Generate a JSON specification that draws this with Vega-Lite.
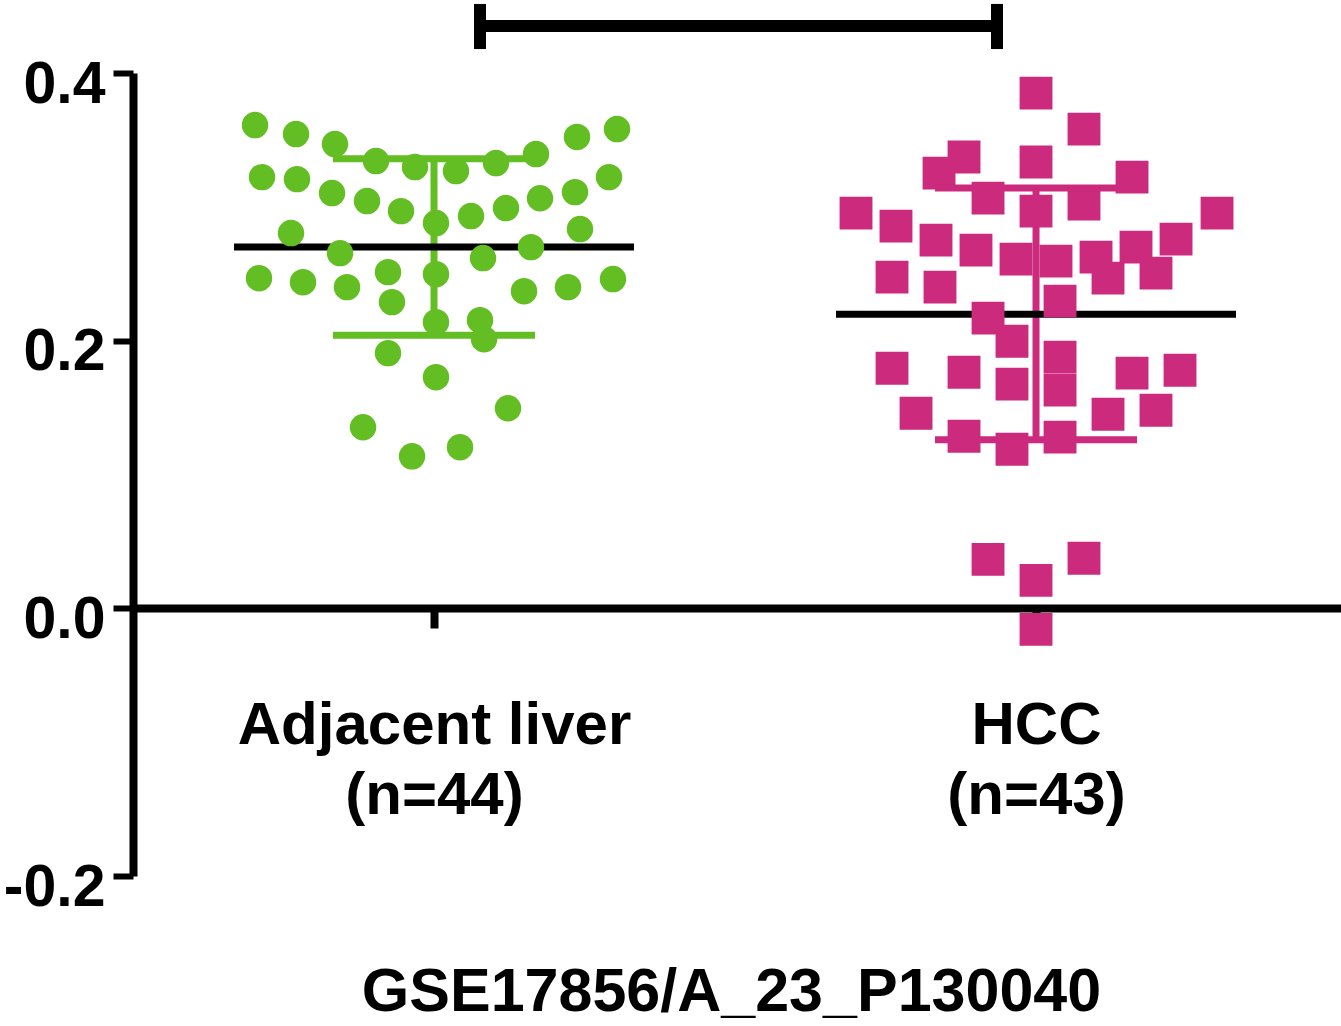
{
  "$schema": "https://vega.github.io/schema/vega-lite/v6.json",
  "width": 1208,
  "height": 803,
  "autosize": {"type": "none"},
  "padding": {"left": 133, "top": 73, "right": 0, "bottom": 150},
  "background": "white",
  "config": {"view": {"stroke": null}, "font": "Liberation Sans"},
  "datasets": {
    "points": [
      {"group": "Adjacent liver", "pos": 0.2027, "value": 0.3611},
      {"group": "Adjacent liver", "pos": 0.2708, "value": 0.3544},
      {"group": "Adjacent liver", "pos": 0.3355, "value": 0.3469},
      {"group": "Adjacent liver", "pos": 0.4037, "value": 0.3342},
      {"group": "Adjacent liver", "pos": 0.4684, "value": 0.3297},
      {"group": "Adjacent liver", "pos": 0.5365, "value": 0.3267},
      {"group": "Adjacent liver", "pos": 0.6030, "value": 0.3327},
      {"group": "Adjacent liver", "pos": 0.6694, "value": 0.3394},
      {"group": "Adjacent liver", "pos": 0.7375, "value": 0.3522},
      {"group": "Adjacent liver", "pos": 0.8040, "value": 0.3581},
      {"group": "Adjacent liver", "pos": 0.2143, "value": 0.3222},
      {"group": "Adjacent liver", "pos": 0.2724, "value": 0.3207},
      {"group": "Adjacent liver", "pos": 0.3306, "value": 0.3103},
      {"group": "Adjacent liver", "pos": 0.3887, "value": 0.3043},
      {"group": "Adjacent liver", "pos": 0.4452, "value": 0.2968},
      {"group": "Adjacent liver", "pos": 0.5033, "value": 0.2879},
      {"group": "Adjacent liver", "pos": 0.5615, "value": 0.2931},
      {"group": "Adjacent liver", "pos": 0.6196, "value": 0.2991},
      {"group": "Adjacent liver", "pos": 0.6761, "value": 0.3064},
      {"group": "Adjacent liver", "pos": 0.7342, "value": 0.3110},
      {"group": "Adjacent liver", "pos": 0.7907, "value": 0.3222},
      {"group": "Adjacent liver", "pos": 0.2625, "value": 0.2804},
      {"group": "Adjacent liver", "pos": 0.3439, "value": 0.2654},
      {"group": "Adjacent liver", "pos": 0.5814, "value": 0.2617},
      {"group": "Adjacent liver", "pos": 0.6611, "value": 0.2699},
      {"group": "Adjacent liver", "pos": 0.7425, "value": 0.2834},
      {"group": "Adjacent liver", "pos": 0.2093, "value": 0.2467},
      {"group": "Adjacent liver", "pos": 0.2824, "value": 0.2437},
      {"group": "Adjacent liver", "pos": 0.3555, "value": 0.2400},
      {"group": "Adjacent liver", "pos": 0.4236, "value": 0.2512},
      {"group": "Adjacent liver", "pos": 0.4302, "value": 0.2288},
      {"group": "Adjacent liver", "pos": 0.5033, "value": 0.2497},
      {"group": "Adjacent liver", "pos": 0.6495, "value": 0.2370},
      {"group": "Adjacent liver", "pos": 0.7226, "value": 0.2400},
      {"group": "Adjacent liver", "pos": 0.7973, "value": 0.2460},
      {"group": "Adjacent liver", "pos": 0.5033, "value": 0.2138},
      {"group": "Adjacent liver", "pos": 0.5764, "value": 0.2153},
      {"group": "Adjacent liver", "pos": 0.5831, "value": 0.2011},
      {"group": "Adjacent liver", "pos": 0.4236, "value": 0.1907},
      {"group": "Adjacent liver", "pos": 0.5033, "value": 0.1727},
      {"group": "Adjacent liver", "pos": 0.6229, "value": 0.1495},
      {"group": "Adjacent liver", "pos": 0.3821, "value": 0.1353},
      {"group": "Adjacent liver", "pos": 0.4635, "value": 0.1136},
      {"group": "Adjacent liver", "pos": 0.5432, "value": 0.1204},
      {"group": "HCC", "pos": 1.5000, "value": 0.3850},
      {"group": "HCC", "pos": 1.5797, "value": 0.3581},
      {"group": "HCC", "pos": 1.3804, "value": 0.3372},
      {"group": "HCC", "pos": 1.3389, "value": 0.3252},
      {"group": "HCC", "pos": 1.5000, "value": 0.3335},
      {"group": "HCC", "pos": 1.6595, "value": 0.3222},
      {"group": "HCC", "pos": 1.4203, "value": 0.3065},
      {"group": "HCC", "pos": 1.5000, "value": 0.2968},
      {"group": "HCC", "pos": 1.5797, "value": 0.3021},
      {"group": "HCC", "pos": 1.2010, "value": 0.2953},
      {"group": "HCC", "pos": 1.8007, "value": 0.2953},
      {"group": "HCC", "pos": 1.2674, "value": 0.2856},
      {"group": "HCC", "pos": 1.3339, "value": 0.2751},
      {"group": "HCC", "pos": 1.4003, "value": 0.2677},
      {"group": "HCC", "pos": 1.4668, "value": 0.2609},
      {"group": "HCC", "pos": 1.5332, "value": 0.2594},
      {"group": "HCC", "pos": 1.5997, "value": 0.2624},
      {"group": "HCC", "pos": 1.6196, "value": 0.2467},
      {"group": "HCC", "pos": 1.6661, "value": 0.2699},
      {"group": "HCC", "pos": 1.6993, "value": 0.2505},
      {"group": "HCC", "pos": 1.7326, "value": 0.2759},
      {"group": "HCC", "pos": 1.2608, "value": 0.2475},
      {"group": "HCC", "pos": 1.3405, "value": 0.2400},
      {"group": "HCC", "pos": 1.5399, "value": 0.2295},
      {"group": "HCC", "pos": 1.4203, "value": 0.2168},
      {"group": "HCC", "pos": 1.4601, "value": 0.1996},
      {"group": "HCC", "pos": 1.2608, "value": 0.1794},
      {"group": "HCC", "pos": 1.3804, "value": 0.1764},
      {"group": "HCC", "pos": 1.4601, "value": 0.1675},
      {"group": "HCC", "pos": 1.5399, "value": 0.1877},
      {"group": "HCC", "pos": 1.5399, "value": 0.1630},
      {"group": "HCC", "pos": 1.6595, "value": 0.1757},
      {"group": "HCC", "pos": 1.7392, "value": 0.1779},
      {"group": "HCC", "pos": 1.3007, "value": 0.1458},
      {"group": "HCC", "pos": 1.6196, "value": 0.1450},
      {"group": "HCC", "pos": 1.6993, "value": 0.1480},
      {"group": "HCC", "pos": 1.3804, "value": 0.1286},
      {"group": "HCC", "pos": 1.4601, "value": 0.1189},
      {"group": "HCC", "pos": 1.5399, "value": 0.1279},
      {"group": "HCC", "pos": 1.4203, "value": 0.0366},
      {"group": "HCC", "pos": 1.5797, "value": 0.0374},
      {"group": "HCC", "pos": 1.5000, "value": 0.0209},
      {"group": "HCC", "pos": 1.5000, "value": -0.0157}
    ],
    "stats": [
      {"group": "Adjacent liver", "pos": 0.5, "mean": 0.270, "lower": 0.204, "upper": 0.336},
      {"group": "HCC", "pos": 1.5, "mean": 0.2198, "lower": 0.126, "upper": 0.314}
    ],
    "sigbar": [
      {"pos": 0.5764, "pos2": 1.4352, "y": 0.4351}
    ],
    "sigcaps": [
      {"pos": 0.5764, "y": 0.4179, "y2": 0.4516},
      {"pos": 1.4352, "y": 0.4179, "y2": 0.4516}
    ]
  },
  "encoding": {
    "x": {"field": "pos", "type": "quantitative", "scale": {"domain": [0, 2.0066], "nice": false, "zero": false},
      "axis": {
        "values": [0.5, 1.5],
        "labelExpr": "datum.value < 1 ? ['Adjacent liver', '(n=44)'] : ['HCC', '(n=43)']",
        "grid": false,
        "offset": -268,
        "domainColor": "black", "domainWidth": 8,
        "tickColor": "black", "tickWidth": 8, "tickSize": 20,
        "labelFont": "Liberation Sans", "labelFontSize": 60, "labelFontWeight": "bold", "labelColor": "black",
        "labelPadding": 68, "labelLineHeight": 70, "labelBaseline": "top", "labelAlign": "center",
        "labelFlush": false, "labelOverlap": false, "labelBound": false, "labelLimit": 0,
        "title": "GSE17856/A_23_P130040",
        "titleFont": "Liberation Sans", "titleFontSize": 61, "titleFontWeight": "bold", "titleColor": "black",
        "titleX": 598, "titleY": 402, "titleAlign": "center", "titleBaseline": "alphabetic", "titleLimit": 0
      }}
  },
  "layer": [
    {
      "data": {"name": "stats"},
      "mark": {"type": "rule", "strokeWidth": 7, "strokeCap": "butt"},
      "encoding": {
        "y": {"field": "lower", "type": "quantitative", "scale": {"domain": [-0.2, 0.4], "nice": false, "zero": false},
          "axis": {
            "values": [-0.2, 0, 0.2, 0.4],
            "labelExpr": "datum.value < 0 ? '-' + format(-datum.value, '.1f') : format(datum.value, '.1f')",
            "grid": false,
            "domainColor": "black", "domainWidth": 8,
            "tickColor": "black", "tickWidth": 6, "tickSize": 20,
            "labelFont": "Liberation Sans", "labelFontSize": 59, "labelFontWeight": "bold", "labelColor": "black",
            "labelPadding": 8, "labelBaseline": "middle", "labelOffset": 11,
            "labelFlush": false, "labelOverlap": false, "labelBound": false, "labelLimit": 0,
            "title": null
          }},
        "y2": {"field": "upper"},
        "color": {"field": "group", "type": "nominal", "scale": {"domain": ["Adjacent liver", "HCC"], "range": ["#63BE23", "#CB2A7D"]}, "legend": null}
      }
    },
    {
      "data": {"name": "stats"},
      "mark": {"type": "tick", "orient": "horizontal", "size": 202, "thickness": 7, "opacity": 1},
      "encoding": {
        "y": {"field": "upper", "type": "quantitative"},
        "color": {"field": "group", "type": "nominal", "scale": {"domain": ["Adjacent liver", "HCC"], "range": ["#63BE23", "#CB2A7D"]}, "legend": null}
      }
    },
    {
      "data": {"name": "stats"},
      "mark": {"type": "tick", "orient": "horizontal", "size": 202, "thickness": 7, "opacity": 1},
      "encoding": {
        "y": {"field": "lower", "type": "quantitative"},
        "color": {"field": "group", "type": "nominal", "scale": {"domain": ["Adjacent liver", "HCC"], "range": ["#63BE23", "#CB2A7D"]}, "legend": null}
      }
    },
    {
      "data": {"name": "stats"},
      "mark": {"type": "tick", "orient": "horizontal", "size": 400, "thickness": 7, "color": "black", "opacity": 1},
      "encoding": {
        "y": {"field": "mean", "type": "quantitative"}
      }
    },
    {
      "data": {"name": "points"},
      "transform": [{"filter": "datum.group === 'Adjacent liver'"}],
      "mark": {"type": "point", "shape": "circle", "filled": true, "opacity": 1, "size": 700, "color": "#63BE23", "strokeWidth": 0},
      "encoding": {
        "y": {"field": "value", "type": "quantitative"}
      }
    },
    {
      "data": {"name": "points"},
      "transform": [{"filter": "datum.group === 'HCC'"}],
      "mark": {"type": "point", "shape": "square", "filled": true, "opacity": 1, "size": 1080, "color": "#CB2A7D", "strokeWidth": 0},
      "encoding": {
        "y": {"field": "value", "type": "quantitative"}
      }
    },
    {
      "data": {"name": "sigbar"},
      "mark": {"type": "rule", "strokeWidth": 12, "color": "black", "strokeCap": "butt"},
      "encoding": {
        "x2": {"field": "pos2"},
        "y": {"field": "y", "type": "quantitative"}
      }
    },
    {
      "data": {"name": "sigcaps"},
      "mark": {"type": "rule", "strokeWidth": 12, "color": "black", "strokeCap": "butt"},
      "encoding": {
        "y": {"field": "y", "type": "quantitative"},
        "y2": {"field": "y2"}
      }
    }
  ]
}
